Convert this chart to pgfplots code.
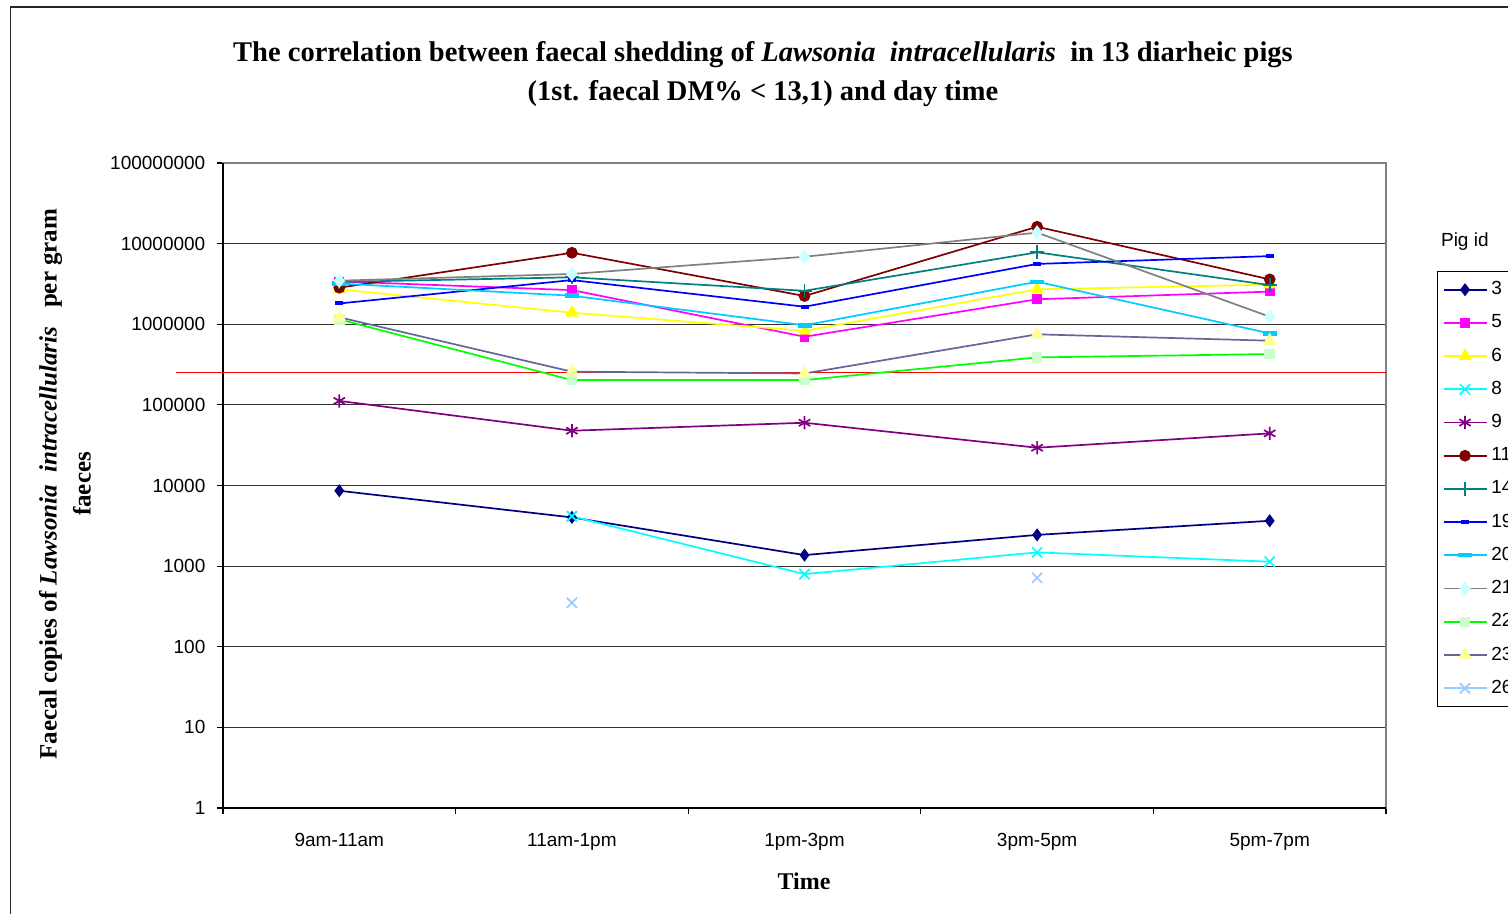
\documentclass[border=0pt]{standalone}
\usepackage{fontspec}
\setmainfont{Liberation Serif}
\setsansfont{Liberation Sans}
\usepackage{pgfplots}
\pgfplotsset{compat=1.18}
\definecolor{c3}{HTML}{000080}
\definecolor{c5}{HTML}{FF00FF}
\definecolor{c6}{HTML}{FFFF00}
\definecolor{c8}{HTML}{00FFFF}
\definecolor{c9}{HTML}{800080}
\definecolor{c11}{HTML}{800000}
\definecolor{c14}{HTML}{008080}
\definecolor{c19}{HTML}{0000FF}
\definecolor{c20}{HTML}{00CCFF}
\definecolor{c21l}{HTML}{808080}
\definecolor{c21m}{HTML}{CCFFFF}
\definecolor{c22l}{HTML}{00FF00}
\definecolor{c22m}{HTML}{CCFFCC}
\definecolor{c23l}{HTML}{666699}
\definecolor{c23m}{HTML}{FFFF99}
\definecolor{c26}{HTML}{99CCFF}
\begin{document}
\begin{tikzpicture}
\useasboundingbox (0,0) rectangle (754pt,457pt);
\fill[white] (0,0) rectangle (754pt,457pt);
\draw[line width=0.8pt, black!85] (5.2pt,-2pt) -- (5.2pt,453.6pt) -- (760pt,453.6pt);
% title
\node[font=\bfseries\fontsize{14.25}{17}\selectfont] at (381.5pt,429.5pt) {The correlation between faecal shedding of \textit{Lawsonia\ \ intracellularis}\ \ in 13 diarheic pigs};
\node[font=\bfseries\fontsize{14.25}{17}\selectfont] at (381.5pt,410pt) {(1st. faecal DM\% < 13,1) and day time};
% y label
\node[font=\bfseries\fontsize{12.5}{17}\selectfont, rotate=90, align=center] at (32.5pt,215pt) {Faecal copies of \textit{Lawsonia\ \ intracellularis}\ \ \ per gram\\faeces};
% x label
\node[font=\bfseries\fontsize{12}{14}\selectfont] at (402pt,16.5pt) {Time};
% legend title
\node[font=\sffamily\fontsize{9.5}{11}\selectfont, anchor=west] at (717pt,336pt) {Pig id};
\begin{axis}[
  at={(111.5pt,53pt)}, anchor=south west,
  scale only axis, width=581.5pt, height=322.5pt,
  ymode=log, ymin=1, ymax=1e8,
  xmin=-0.5, xmax=4.5,
  clip=false,
  axis line style={draw=black!50, line width=0.6pt},
  xtick={0,1,2,3,4},
  xticklabels={9am-11am,11am-1pm,1pm-3pm,3pm-5pm,5pm-7pm},
  major x tick style={draw=none},
  minor xtick={-0.5,0.5,1.5,2.5,3.5,4.5},
  minor x tick style={black, line width=0.6pt},
  minor tick length=3pt,
  ytick={1,10,100,1000,10000,100000,1000000,10000000,100000000},
  yticklabels={1,10,100,1000,10000,100000,1000000,10000000,100000000},
  minor ytick={},
  log basis y=10,
  major tick length=2.8pt,
  tick align=outside,
  tick pos=left,
  major y tick style={black, line width=0.6pt},
  ymajorgrids,
  major grid style={black!80, line width=0.6pt},
  tick label style={font=\sffamily\fontsize{9.5}{11}\selectfont},
  /pgf/number format/assume math mode=true,
  yticklabel style={xshift=-2.5pt},
  xticklabel style={yshift=-6.3pt},
  every axis plot/.append style={line width=0.85pt},
  unbounded coords=jump,
  legend style={at={(rel axis cs:1.0439,0.8326)}, anchor=north west,
    draw=black, line width=0.6pt, font=\sffamily\fontsize{9.5}{11}\selectfont,
    row sep=4.5pt, inner xsep=2.5pt, inner ysep=3pt},
  legend cell align=left,
  legend image code/.code={\draw[mark repeat=2,mark phase=2] plot coordinates {(0pt,0pt) (10.75pt,0pt) (21.5pt,0pt)};},
]
\draw[black, line width=0.7pt] (rel axis cs:0,1) -- (rel axis cs:0,0) -- (rel axis cs:1,0);
\addplot[red, line width=0.7pt, forget plot] coordinates {(-0.7,250000) (4.5,250000)};
\addplot[c3, mark=diamond*, mark size=2.6pt] coordinates {(0,8600) (1,4020) (2,1370) (3,2440) (4,3650)};
\addlegendentry{3}
\addplot[c5, mark=square*, mark size=2pt] coordinates {(0,3400000) (1,2650000) (2,700000) (3,2040000) (4,2540000)};
\addlegendentry{5}
\addplot[c6, mark=triangle*, mark size=3pt] coordinates {(0,2710000) (1,1390000) (2,830000) (3,2710000) (4,3100000)};
\addlegendentry{6}
\addplot[c8, mark=x, mark size=3.6pt] coordinates {(0,nan) (1,4150) (2,796) (3,1480) (4,1135)};
\addlegendentry{8}
\addplot[c9, mark=asterisk, mark size=3.3pt] coordinates {(0,112000) (1,47800) (2,60000) (3,29400) (4,44300)};
\addlegendentry{9}
\addplot[c11, mark=*, mark size=2.5pt] coordinates {(0,2840000) (1,7700000) (2,2240000) (3,16200000) (4,3600000)};
\addlegendentry{11}
\addplot[c14, mark=+, mark size=3.5pt] coordinates {(0,3350000) (1,3820000) (2,2600000) (3,7800000) (4,3060000)};
\addlegendentry{14}
\addplot[c19, mark=-, mark size=2pt, mark options={line width=2pt}] coordinates {(0,1810000) (1,3530000) (2,1650000) (3,5600000) (4,7000000)};
\addlegendentry{19}
\addplot[c20, mark=-, mark size=3.5pt, mark options={line width=2.2pt}] coordinates {(0,3200000) (1,2260000) (2,970000) (3,3370000) (4,770000)};
\addlegendentry{20}
\addplot[c21l, mark=diamond*, mark size=3pt, mark options={draw=c21m, fill=c21m}] coordinates {(0,3470000) (1,4200000) (2,6870000) (3,13700000) (4,1240000)};
\addlegendentry{21}
\addplot[c22l, mark=square*, mark size=2.2pt, mark options={draw=c22m, fill=c22m}] coordinates {(0,1150000) (1,203000) (2,203000) (3,388000) (4,427000)};
\addlegendentry{22}
\addplot[c23l, mark=triangle*, mark size=3.2pt, mark options={draw=c23m, fill=c23m}] coordinates {(0,1220000) (1,258000) (2,245000) (3,750000) (4,625000)};
\addlegendentry{23}
\addplot[c26, mark=x, mark size=3.6pt] coordinates {(0,nan) (1,351) (2,nan) (3,716) (4,nan)};
\addlegendentry{26}
\end{axis}
\end{tikzpicture}
\end{document}
